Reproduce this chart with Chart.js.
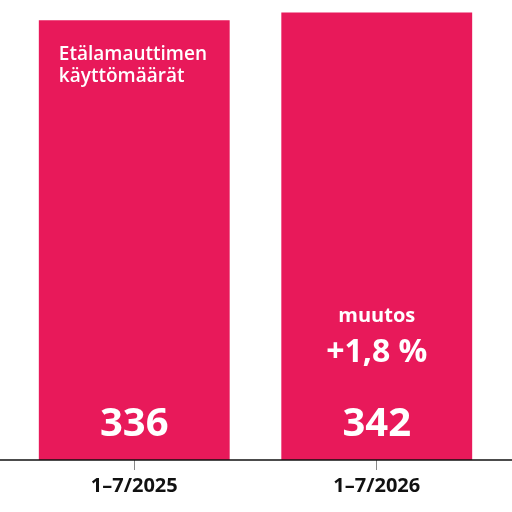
<!DOCTYPE html>
<html lang="fi">
<head>
<meta charset="utf-8">
<script src="https://cdn.jsdelivr.net/npm/chart.js@4"></script>
<style>
  html, body { margin: 0; padding: 0; background: #fff; }
  #wrap { width: 512px; height: 512px; position: relative; }
</style>
</head>
<body>
<div id="wrap"><canvas id="c"></canvas></div>
<script>
'use strict';
const periods = ['1–7/2025', '1–7/2026'];
const usage = [336, 342];
const titleLines = ['Etälamauttimen', 'käyttömäärät'];
const changeLabel = 'muutos';

const barColor = '#e8195a';
const font = '"Open Sans", "Noto Sans", sans-serif';

const pct = (usage[1] - usage[0]) / usage[0] * 100;
const changeText = (pct >= 0 ? '+' : '') + pct.toFixed(1).replace('.', ',') + ' %';

// axis line across the whole canvas + texts inside bars
const overlay = {
  id: 'overlay',
  afterDatasetsDraw(chart) {
    const ctx = chart.ctx;
    const y0 = chart.scales.y.getPixelForValue(0);
    const bars = chart.getDatasetMeta(0).data;
    ctx.save();
    ctx.strokeStyle = '#111';
    ctx.lineWidth = 1.5;
    ctx.beginPath();
    ctx.moveTo(0, y0); ctx.lineTo(chart.width, y0);
    ctx.stroke();

    ctx.fillStyle = '#fff';
    ctx.textAlign = 'center';
    ctx.textBaseline = 'alphabetic';
    ctx.font = `bold 40px ${font}`;
    bars.forEach((b, i) => ctx.fillText(String(usage[i]), b.x, y0 - 24));

    const b2 = bars[1];
    ctx.font = `bold 20px ${font}`;
    ctx.fillText(changeLabel, b2.x, 322);
    ctx.font = `bold 32px ${font}`;
    ctx.fillText(changeText, b2.x, 362);

    const b1 = bars[0];
    ctx.textAlign = 'left';
    ctx.font = `600 19px ${font}`;
    titleLines.forEach((t, i) => ctx.fillText(t, b1.x - b1.width / 2 + 20, 59.5 + i * 22.5));
    ctx.restore();
  }
};

new Chart(document.getElementById('c'), {
  type: 'bar',
  data: {
    labels: periods,
    datasets: [{
      data: usage,
      backgroundColor: barColor,
      borderWidth: 0,
      categoryPercentage: 1,
      barPercentage: 0.787
    }]
  },
  options: {
    responsive: true,
    maintainAspectRatio: false,
    animation: false,
    layout: { padding: { left: 13, right: 14, top: 2, bottom: 10 } },
    plugins: { legend: { display: false }, tooltip: { enabled: false } },
    scales: {
      y: { display: false, min: 0, max: 350 },
      x: {
        border: { display: false },
        grid: { offset: false, drawOnChartArea: false, tickLength: 10, tickColor: '#888', lineWidth: 1 },
        ticks: { color: '#111', padding: 4, font: { family: font, size: 20, weight: 'bold' } }
      }
    }
  },
  plugins: [overlay]
});
</script>
</body>
</html>
